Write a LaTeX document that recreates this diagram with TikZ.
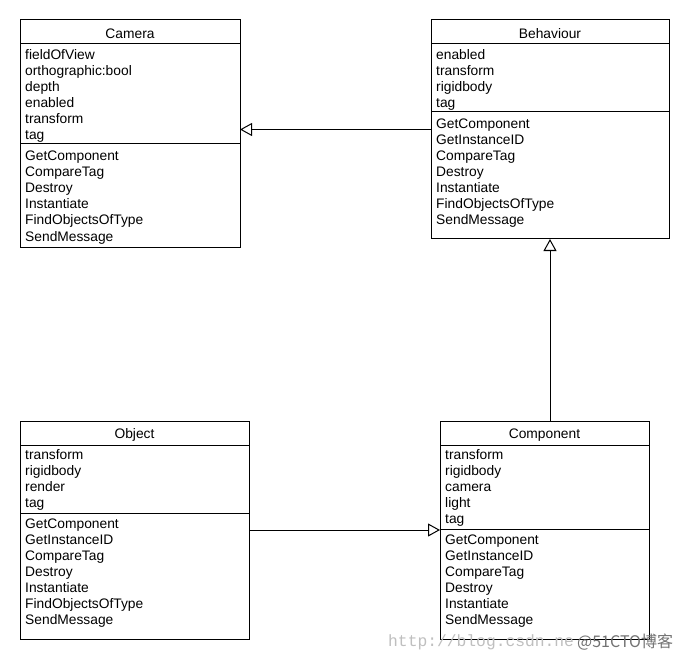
\documentclass[tikz,border=0pt]{standalone}
\usepackage{fontspec}
\setmainfont{Liberation Sans}
\newfontfamily\wmmono{Liberation Mono}
\newfontfamily\wmcjk{Noto Sans CJK SC}
\usetikzlibrary{arrows.meta}
\tikzset{
  classbox/.style={draw, line width=1pt, inner sep=0pt, outer sep=0pt, anchor=north west, rectangle},
  sepline/.style={line width=1pt},
  ctitle/.style={anchor=base, inner sep=0pt, font=\fontsize{13.8pt}{16pt}\selectfont},
  member/.style={anchor=base west, inner sep=0pt, font=\fontsize{13.8pt}{16pt}\selectfont},
  inherit/.style={line width=1pt, -{Triangle[length=12pt, width=13pt, fill=white, line width=1pt]}},
  watermark/.style={anchor=base west, inner sep=0pt}
}
\begin{document}
\begin{tikzpicture}[x=1pt,y=-1pt]
\useasboundingbox[fill=white] (0,0) rectangle (690,660);

% Camera
\node[classbox, minimum width=220pt, minimum height=228pt] (cam) at (20,20) {};
\draw[sepline] ([yshift=-24pt]cam.north west) -- ([yshift=-24pt]cam.north east);
\draw[sepline] ([yshift=-124pt]cam.north west) -- ([yshift=-124pt]cam.north east);
\node[ctitle] (camt) at ([yshift=-18.5pt]cam.north) {Camera};
\foreach \t [count=\i from 0] in {fieldOfView, orthographic:bool, depth, enabled, transform, tag}
  \node[member] (cama\i) at ([xshift=5pt, yshift={-(40+16*\i)*1pt}]cam.north west) {\t};
\foreach \t [count=\i from 0] in {GetComponent, CompareTag, Destroy, Instantiate, FindObjectsOfType, SendMessage}
  \node[member] (camm\i) at ([xshift=5pt, yshift={-(141+16*\i)*1pt}]cam.north west) {\t};

% Behaviour
\node[classbox, minimum width=238pt, minimum height=219pt] (beh) at (431,20) {};
\draw[sepline] ([yshift=-24pt]beh.north west) -- ([yshift=-24pt]beh.north east);
\draw[sepline] ([yshift=-92pt]beh.north west) -- ([yshift=-92pt]beh.north east);
\node[ctitle] (beht) at ([yshift=-18.5pt]beh.north) {Behaviour};
\foreach \t [count=\i from 0] in {enabled, transform, rigidbody, tag}
  \node[member] (beha\i) at ([xshift=5pt, yshift={-(40+16*\i)*1pt}]beh.north west) {\t};
\foreach \t [count=\i from 0] in {GetComponent, GetInstanceID, CompareTag, Destroy, Instantiate, FindObjectsOfType, SendMessage}
  \node[member] (behm\i) at ([xshift=5pt, yshift={-(109+16*\i)*1pt}]beh.north west) {\t};

% Object
\node[classbox, minimum width=229pt, minimum height=218pt] (obj) at (20,421) {};
\draw[sepline] ([yshift=-24pt]obj.north west) -- ([yshift=-24pt]obj.north east);
\draw[sepline] ([yshift=-92pt]obj.north west) -- ([yshift=-92pt]obj.north east);
\node[ctitle] (objt) at ([yshift=-17.5pt]obj.north) {Object};
\foreach \t [count=\i from 0] in {transform, rigidbody, render, tag}
  \node[member] (obja\i) at ([xshift=5pt, yshift={-(38.5+16*\i)*1pt}]obj.north west) {\t};
\foreach \t [count=\i from 0] in {GetComponent, GetInstanceID, CompareTag, Destroy, Instantiate, FindObjectsOfType, SendMessage}
  \node[member] (objm\i) at ([xshift=5pt, yshift={-(107+16*\i)*1pt}]obj.north west) {\t};

% Component
\node[classbox, minimum width=209pt, minimum height=218pt] (comp) at (440,421) {};
\draw[sepline] ([yshift=-24pt]comp.north west) -- ([yshift=-24pt]comp.north east);
\draw[sepline] ([yshift=-108pt]comp.north west) -- ([yshift=-108pt]comp.north east);
\node[ctitle] (compt) at ([yshift=-17.5pt]comp.north) {Component};
\foreach \t [count=\i from 0] in {transform, rigidbody, camera, light, tag}
  \node[member] (compa\i) at ([xshift=5pt, yshift={-(38.5+16*\i)*1pt}]comp.north west) {\t};
\foreach \t [count=\i from 0] in {GetComponent, GetInstanceID, CompareTag, Destroy, Instantiate, SendMessage}
  \node[member] (compm\i) at ([xshift=5pt, yshift={-(123+16*\i)*1pt}]comp.north west) {\t};

% Connectors (generalization)
\draw[inherit] (beh.west) -- (beh.west -| cam.east);
\draw[inherit] (comp.north -| beh.south) -- (beh.south);
\draw[inherit] (obj.east) -- (obj.east -| comp.west);

% Watermark
\node[watermark, font=\wmmono\fontsize{16.3pt}{18pt}\selectfont, text=black!25] (wm1) at (388,646) {http://blog.csdn.ne};
\node[watermark, font=\wmcjk\fontsize{16pt}{18pt}\selectfont, text=black!55] (wm2) at (577,647) {@51CTO博客};
\end{tikzpicture}
\end{document}
